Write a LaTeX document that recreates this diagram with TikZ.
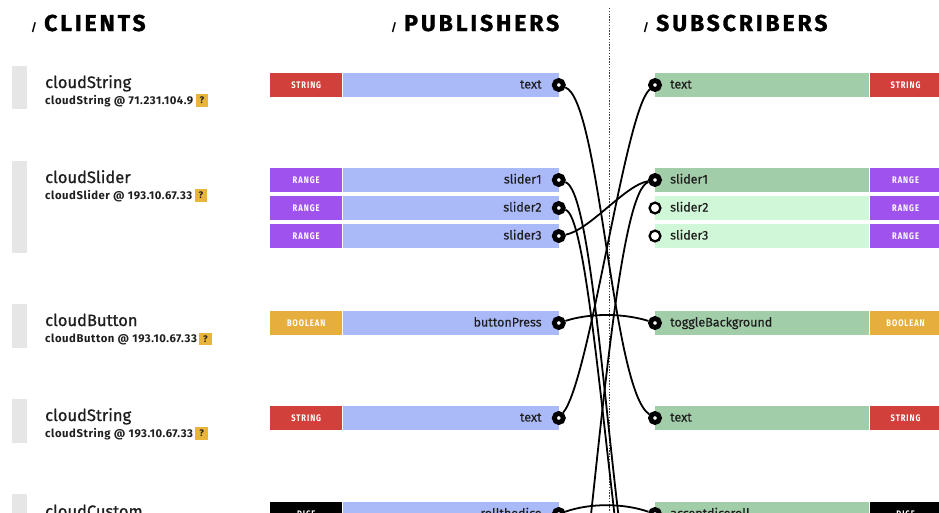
\documentclass[tikz,border=0pt]{standalone}
\usepackage{fontspec}
\setmainfont{Fira Sans}
\newfontfamily\titlefont{Fira Sans}[LetterSpace=12.5,FakeBold=1.2]
\newfontfamily\namefont{Fira Sans}[FakeBold=0.9]
\newfontfamily\subfont{Fira Sans}[LetterSpace=5]
\newfontfamily\barfont{Fira Sans}[FakeBold=0.4]
\newfontfamily\badgefont{Fira Sans}[FakeStretch=0.8,LetterSpace=10]
\usetikzlibrary{positioning}
\definecolor{pubc}{HTML}{AAB9F7}
\definecolor{subon}{HTML}{A2CDA9}
\definecolor{suboff}{HTML}{D0F7D7}
\definecolor{strc}{HTML}{D1403A}
\definecolor{rangec}{HTML}{A052EE}
\definecolor{boolc}{HTML}{E6AE3C}
\definecolor{dicec}{HTML}{000000}
\definecolor{greyc}{HTML}{E6E6E6}
\definecolor{qc}{HTML}{E8B43A}
\definecolor{txtc}{HTML}{1E1E1E}
\begin{document}
\begin{tikzpicture}[x=1pt,y=-1pt,
  title/.style={anchor=base west, inner sep=0, font=\titlefont\bfseries\fontsize{23}{24}\selectfont},
  slash/.style={anchor=base west, inner sep=0, font=\bfseries\fontsize{11}{12}\selectfont},
  greyblk/.style={rectangle, fill=greyc, minimum width=15pt, inner sep=0, anchor=north west},
  cname/.style={anchor=base west, inner sep=0, text=txtc, font=\namefont\fontsize{16.5}{18}\selectfont},
  csub/.style={anchor=base west, inner sep=0, text=txtc, font=\subfont\bfseries\fontsize{11.3}{12}\selectfont},
  qbox/.style={rectangle, fill=qc, minimum size=12.5pt, inner sep=0, text=txtc, font=\bfseries\fontsize{9.5}{10}\selectfont},
  badge/.style={rectangle, minimum width=72pt, minimum height=24pt, inner sep=0, text=white, font=\badgefont\bfseries\fontsize{9.5}{10}\selectfont},
  pubbar/.style={rectangle, fill=pubc, anchor=west, minimum height=24pt, text width=182pt, inner xsep=17pt, inner ysep=0, align=right, text height=9.5pt, text depth=2.5pt, text=txtc, font=\barfont\fontsize{12.5}{14}\selectfont},
  subbar/.style={rectangle, anchor=west, minimum height=24pt, text width=184pt, inner xsep=15pt, inner ysep=0, align=left, text height=9.5pt, text depth=2.5pt, text=txtc, font=\barfont\fontsize{12.5}{14}\selectfont},
  pubdot/.style={circle, draw=black, line width=4.8pt, fill=white, minimum size=9pt, inner sep=0},
  opendot/.style={circle, draw=black, line width=2.3pt, fill=white, minimum size=10.8pt, inner sep=0},
  conn/.style={line width=1.8pt, black},
  divider/.style={line width=0.7pt, black!75, dash pattern=on 1.3pt off 1.5pt}
]
\useasboundingbox (0,0) rectangle (939,512);
\clip (0,0) rectangle (939,512);

% titles
\node[slash] (s1) at (31,31) {/};
\node[title] (t1) at (44,31) {CLIENTS};
\node[slash] (s2) at (391,31) {/};
\node[title] (t2) at (404,31) {PUBLISHERS};
\node[slash] (s3) at (643,31) {/};
\node[title] (t3) at (656,31) {SUBSCRIBERS};

\draw[divider] (609,8) -- (609,512);

% clients
\node[greyblk, minimum height=43pt] (g1) at (12,66) {};
\node[cname] (n1) at (45,88) {cloudString};
\node[csub] (c1) at (45,104) {cloudString @ 71.231.104.9};
\node[qbox, right=2pt of c1] (q1) {?};

\node[greyblk, minimum height=92pt] (g2) at (12,161) {};
\node[cname] (n2) at (45,183) {cloudSlider};
\node[csub] (c2) at (45,199) {cloudSlider @ 193.10.67.33};
\node[qbox, right=2pt of c2] (q2) {?};

\node[greyblk, minimum height=44pt] (g3) at (12,304) {};
\node[cname] (n3) at (45,326) {cloudButton};
\node[csub] (c3) at (45,342) {cloudButton @ 193.10.67.33};
\node[qbox, right=2pt of c3] (q3) {?};

\node[greyblk, minimum height=44pt] (g4) at (12,399) {};
\node[cname] (n4) at (45,421) {cloudString};
\node[csub] (c4) at (45,437) {cloudString @ 193.10.67.33};
\node[qbox, right=2pt of c4] (q4) {?};

\node[greyblk, minimum height=44pt] (g5) at (12,494) {};
\node[cname] (n5) at (45,517) {cloudCustom};

% publishers
\node[badge, fill=strc, anchor=west] (pg1) at (270,85) {STRING};
\node[pubbar] (pb1) at (pg1.east) {text};
\node[badge, fill=rangec, anchor=west] (pg2) at (270,180) {RANGE};
\node[pubbar] (pb2) at (pg2.east) {slider1};
\node[badge, fill=rangec, anchor=west] (pg3) at (270,208) {RANGE};
\node[pubbar] (pb3) at (pg3.east) {slider2};
\node[badge, fill=rangec, anchor=west] (pg4) at (270,236) {RANGE};
\node[pubbar] (pb4) at (pg4.east) {slider3};
\node[badge, fill=boolc, anchor=west] (pg5) at (270,323) {BOOLEAN};
\node[pubbar] (pb5) at (pg5.east) {buttonPress};
\node[badge, fill=strc, anchor=west] (pg6) at (270,418) {STRING};
\node[pubbar] (pb6) at (pg6.east) {text};
\node[badge, fill=dicec, anchor=west] (pg7) at (270,514) {DICE};
\node[pubbar] (pb7) at (pg7.east) {rollthedice};

\foreach \i in {1,...,7} {\node[pubdot] (pd\i) at (pb\i.east) {};}

% subscribers
\node[subbar, fill=subon] (sb1) at (655,85) {text};
\node[badge, fill=strc, anchor=west] (sg1) at (sb1.east) {STRING};
\node[subbar, fill=subon] (sb2) at (655,180) {slider1};
\node[badge, fill=rangec, anchor=west] (sg2) at (sb2.east) {RANGE};
\node[subbar, fill=suboff] (sb3) at (655,208) {slider2};
\node[badge, fill=rangec, anchor=west] (sg3) at (sb3.east) {RANGE};
\node[subbar, fill=suboff] (sb4) at (655,236) {slider3};
\node[badge, fill=rangec, anchor=west] (sg4) at (sb4.east) {RANGE};
\node[subbar, fill=subon] (sb5) at (655,323) {toggleBackground};
\node[badge, fill=boolc, anchor=west] (sg5) at (sb5.east) {BOOLEAN};
\node[subbar, fill=subon] (sb6) at (655,418) {text};
\node[badge, fill=strc, anchor=west] (sg6) at (sb6.east) {STRING};
\node[subbar, fill=subon] (sb7) at (655,514) {acceptdiceroll};
\node[badge, fill=dicec, anchor=west] (sg7) at (sb7.east) {DICE};

\node[pubdot] (sd1) at (sb1.west) {};
\node[pubdot] (sd2) at (sb2.west) {};
\node[opendot] (sd3) at (sb3.west) {};
\node[opendot] (sd4) at (sb4.west) {};
\node[pubdot] (sd5) at (sb5.west) {};
\node[pubdot] (sd6) at (sb6.west) {};
\node[pubdot] (sd7) at (sb7.west) {};

% free ends below the picture
\coordinate (o2) at (624,560);
\coordinate (o3) at (620,560);
\coordinate (o4) at (586,560);

% connectors
\draw[conn] (pd1) .. controls (600,100) and (612,390) .. (sd6);
\draw[conn] (pd6) .. controls (590,380) and (625,110) .. (sd1);
\draw[conn] (pd4) .. controls (590,230) and (625,185) .. (sd2);
\draw[conn] (pd2) .. controls (590,190) and (603,400) .. (o2);
\draw[conn] (pd3) .. controls (585,215) and (600,400) .. (o3);
\draw[conn] (sd2) .. controls (622,190) and (604,400) .. (o4);
\draw[conn] (pd5) .. controls (590,313) and (623,313) .. (sd5);
\draw[conn] (pd7) .. controls (590,503) and (623,503) .. (sd7);
\end{tikzpicture}
\end{document}
